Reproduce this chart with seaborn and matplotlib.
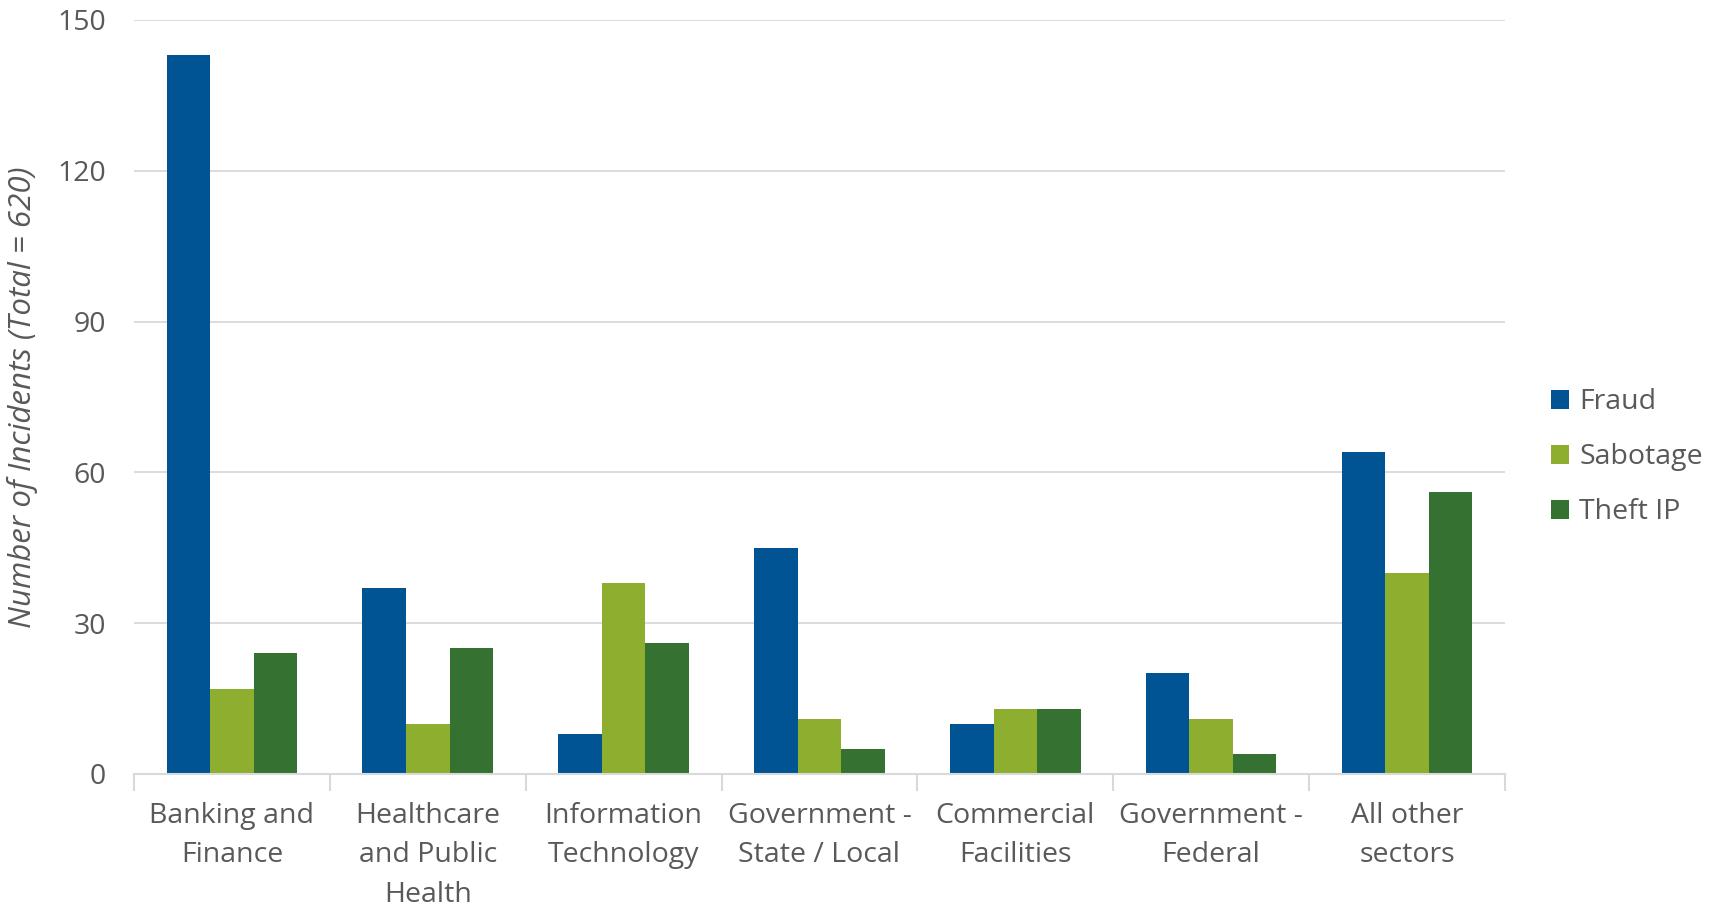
import matplotlib
matplotlib.use("Agg")
import matplotlib.pyplot as plt
import seaborn as sns
import pandas as pd
import numpy as np

categories = ["Banking and\nFinance", "Healthcare\nand Public\nHealth", "Information\nTechnology",
              "Government -\nState / Local", "Commercial\nFacilities", "Government -\nFederal",
              "All other\nsectors"]
fraud = [143, 37, 8, 45, 10, 20, 64]
sabotage = [17, 10, 38, 11, 13, 11, 40]
theft_ip = [24, 25, 26, 5, 13, 4, 56]
series_names = ["Fraud", "Sabotage", "Theft IP"]
colors = ["#005493", "#8DAE2F", "#357131"]
yticks = [0, 30, 60, 90, 120, 150]

rows = []
for name, vals in zip(series_names, [fraud, sabotage, theft_ip]):
    for c, v in zip(categories, vals):
        rows.append({"Sector": c, "Type": name, "Count": v})
df = pd.DataFrame(rows)

sns.set_theme(style="white")
plt.rcParams['font.family'] = ['Open Sans', 'DejaVu Sans']

fig = plt.figure(figsize=(17.09, 9.06), dpi=100)
ax = fig.add_axes([0.0784, 0.1457, 0.8022, 0.8323])

sns.barplot(data=df, x="Sector", y="Count", hue="Type", order=categories,
            hue_order=series_names, palette=colors, width=0.667, saturation=1,
            edgecolor="none", linewidth=0, ax=ax, legend=True)

text_color = "#595959"
grid_color = "#D9D9D9"
fs = 20.5
ax.set_ylim(0, 150)
ax.set_xlim(-0.5, len(categories) - 0.5)
ax.set_yticks(yticks)
ax.set_yticklabels([str(t) for t in yticks], fontsize=fs, color=text_color)
ax.yaxis.grid(True, color=grid_color, linewidth=1.3)
ax.set_axisbelow(True)
for s in ["top", "right", "left"]:
    ax.spines[s].set_visible(False)
ax.spines["bottom"].set_color(grid_color)
ax.spines["bottom"].set_linewidth(1.5)
ax.tick_params(axis="y", length=0, pad=20)

ax.set_xticks(range(len(categories)))
ax.set_xticklabels(categories, fontsize=fs, color=text_color, linespacing=1.55)
ax.tick_params(axis="x", which="major", length=0, pad=20)
ax.set_xticks(np.arange(-0.5, len(categories), 1.0), minor=True)
ax.tick_params(axis="x", which="minor", length=12, width=1.5, color=grid_color, bottom=True)

ax.set_xlabel("")
ax.set_ylabel("Number of Incidents (Total = 620)", fontsize=22.5, color=text_color,
              style="italic", labelpad=14)

handles, labels = ax.get_legend_handles_labels()
ax.legend(handles, labels, loc="center left", bbox_to_anchor=(1.025, 0.42), frameon=False,
          borderaxespad=0, fontsize=fs, labelcolor=text_color, handlelength=0.65, handleheight=0.65,
          handletextpad=0.35, labelspacing=0.95)

fig.savefig("out.png", dpi=100)
